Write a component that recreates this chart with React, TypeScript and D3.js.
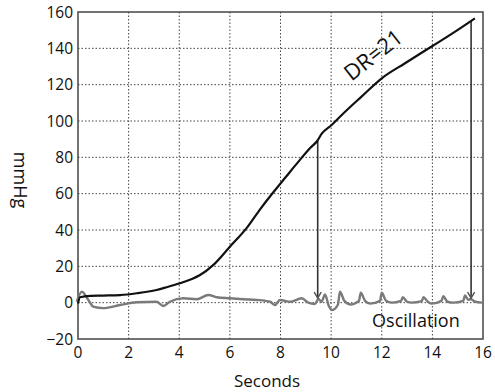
import React, { useEffect, useRef } from 'react'
import * as d3 from 'd3'

// pressure ramp (DR=21)
const rampSeconds = [0, 0.08, 0.5, 1, 1.66, 2.32, 3.1, 3.5, 4.03, 4.5, 4.82, 5.35, 6, 6.66, 7.2, 7.7, 8.2, 8.7, 9.2, 9.45, 9.63, 10.02, 10.42, 11.2, 12.0, 12.92, 13.97, 14.9, 15.68]
const rampPressure = [-0.5, 3, 3.7, 3.9, 4.2, 5.2, 7, 8.5, 10.7, 13, 15.2, 20.8, 30.8, 41, 51.5, 60.5, 69, 77.5, 85.5, 89, 93, 97.8, 103.3, 113.4, 123.5, 131.8, 141, 149.2, 156.5]

// oscillation trace
const oscSeconds = [-0.05, 0.15, 0.41, 0.6, 1.0, 1.66, 2.32, 3.1, 3.37, 3.63, 4.16, 4.69, 5.15, 5.48, 6.0, 6.53, 7.06, 7.59, 7.78, 7.98, 8.38, 8.84, 9.1, 9.36, 9.5, 9.62, 9.76, 9.9, 10.05, 10.27, 10.35, 10.52, 10.75, 11.1, 11.17, 11.34, 11.54, 11.93, 12.0, 12.17, 12.4, 12.76, 12.83, 13.0, 13.18, 13.58, 13.65, 13.82, 13.97, 14.36, 14.43, 14.6, 14.83, 15.22, 15.29, 15.42, 15.5, 15.7, 15.95]
const oscPressure = [0.5, 6, 1.5, -2.2, -3, -1.3, 0.2, 0.5, -1.8, 0.5, 2.4, 1.9, 4.2, 3, 2.4, 1.9, 1.5, 0.5, -1.3, 1.5, 0.5, 2.4, 0, -0.7, 2, 0.5, 4.5, -1.5, -4, -1, 6, 1, -1, 1, 5.5, 1, -0.5, 1, 5.5, 1, 0, 1, 3, 0.5, 0, 0.8, 3, 0.5, -0.5, 1, 3.5, 0.5, 0, 1, 4, 1.5, 2, 0.5, 0]

// vertical markers where the cuff deflates
const markerSeconds = [9.47, 15.53]
const markerTop = [89, 155]
const markerBottom = [2.5, 2.5]

const xTicks = [0, 2, 4, 6, 8, 10, 12, 14, 16]
const yTicks = [-20, 0, 20, 40, 60, 80, 100, 120, 140, 160]

const W = 495
const H = 392
const margin = { top: 12, right: 12, bottom: 53, left: 78 }
const font = '"Open Sans", "Liberation Sans", sans-serif'

const App = () => {
  const ref = useRef<SVGSVGElement | null>(null)

  useEffect(() => {
    const svg = d3.select(ref.current)
    svg.selectAll('*').remove()

    const x = d3.scaleLinear().domain([0, 16]).range([margin.left, W - margin.right])
    const y = d3.scaleLinear().domain([-20, 160]).range([H - margin.bottom, margin.top])

    svg.append('rect').attr('width', W).attr('height', H).attr('fill', '#fff')

    // grid
    const grid = svg.append('g').attr('stroke', '#444').attr('stroke-width', 1).attr('stroke-dasharray', '1.5,2')
    xTicks.slice(1, -1).forEach(t => {
      grid.append('line').attr('x1', x(t)).attr('x2', x(t)).attr('y1', y(-20)).attr('y2', y(160))
    })
    yTicks.slice(1, -1).forEach(t => {
      grid.append('line').attr('x1', x(0)).attr('x2', x(16)).attr('y1', y(t)).attr('y2', y(t))
    })

    // frame
    svg.append('rect')
      .attr('x', x(0)).attr('y', y(160))
      .attr('width', x(16) - x(0)).attr('height', y(-20) - y(160))
      .attr('fill', 'none').attr('stroke', '#444').attr('stroke-width', 1.5)

    // tick labels
    svg.append('g').selectAll('text').data(yTicks).enter().append('text')
      .attr('x', x(0) - 5).attr('y', d => y(d) + 5.5)
      .attr('text-anchor', 'end').attr('font-family', font).attr('font-size', 15.5).attr('fill', '#111')
      .text(d => d < 0 ? '\u2212' + Math.abs(d) : String(d))

    svg.append('g').selectAll('text').data(xTicks).enter().append('text')
      .attr('x', d => x(d)).attr('y', 358)
      .attr('text-anchor', 'middle').attr('font-family', font).attr('font-size', 15.5).attr('fill', '#111')
      .text(d => String(d))

    svg.append('text').attr('x', 267).attr('y', 387).attr('text-anchor', 'middle')
      .attr('font-family', font).attr('font-size', 17).attr('fill', '#111').text('Seconds')

    svg.append('text').attr('transform', 'translate(14,180) rotate(90)').attr('text-anchor', 'middle')
      .attr('font-family', font).attr('font-size', 18).attr('fill', '#111').text('mmHg')

    const line = d3.line<[number, number]>().x(d => x(d[0])).y(d => y(d[1])).curve(d3.curveMonotoneX)

    // oscillation
    svg.append('path')
      .attr('d', line(oscSeconds.map((s, i) => [s, oscPressure[i]] as [number, number])))
      .attr('fill', 'none').attr('stroke', '#7a7a7a').attr('stroke-width', 2.4)

    // markers
    markerSeconds.forEach((s, i) => {
      svg.append('line').attr('x1', x(s)).attr('x2', x(s)).attr('y1', y(markerTop[i])).attr('y2', y(markerBottom[i]))
        .attr('stroke', '#333').attr('stroke-width', 1.6)
      svg.append('path')
        .attr('d', `M${x(s) - 3.5},${y(markerBottom[i]) - 6}L${x(s)},${y(markerBottom[i])}L${x(s) + 3.5},${y(markerBottom[i]) - 6}`)
        .attr('fill', 'none').attr('stroke', '#555').attr('stroke-width', 1.5)
    })

    // ramp
    svg.append('path')
      .attr('d', line(rampSeconds.map((s, i) => [s, rampPressure[i]] as [number, number])))
      .attr('fill', 'none').attr('stroke', '#111').attr('stroke-width', 2.2)

    svg.append('text').attr('transform', `translate(${x(11.85)},${y(133)}) rotate(-38)`).attr('text-anchor', 'middle')
      .attr('font-family', font).attr('font-size', 22).attr('fill', '#111').text('DR=21')

    svg.append('text').attr('x', x(13.35)).attr('y', y(-13.3)).attr('text-anchor', 'middle')
      .attr('font-family', font).attr('font-size', 18).attr('fill', '#111').text('Oscillation')
  }, [])

  return (
    <svg ref={ref} width={W} height={H} style={{ position: 'absolute', left: 0, top: 0, display: 'block' }} />
  )
}

export default App
